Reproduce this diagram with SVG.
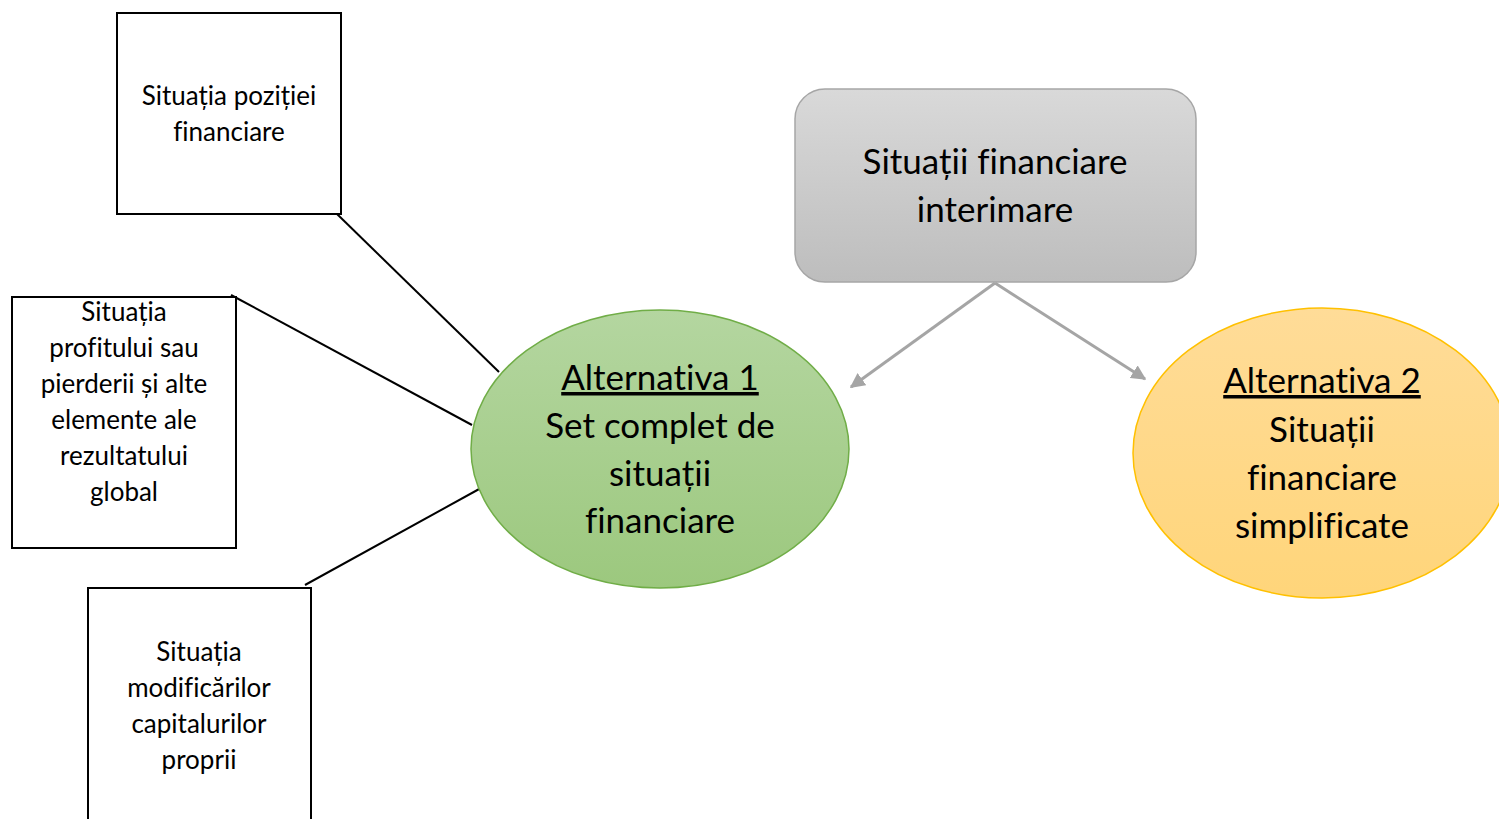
<svg xmlns="http://www.w3.org/2000/svg" width="1499" height="819" viewBox="0 0 1499 819">
<style>
  text { font-family: Lato, "Open Sans", "Liberation Sans", sans-serif; fill: #000; text-anchor: middle; font-variant-ligatures: none; }
  .box { fill: #fff; stroke: #000; stroke-width: 2; }
  .small { font-size: 26px; }
  .mid { font-size: 35px; }
  .big { font-size: 35px; }
  .link { stroke: #000; stroke-width: 2; fill: none; }
  .arrow { stroke: #a5a5a5; stroke-width: 3; fill: none; marker-end: url(#ah); }
</style>
<defs>
  <marker id="ah" viewBox="0 0 10 10" refX="9" refY="5" markerWidth="5" markerHeight="5" orient="auto" markerUnits="strokeWidth">
    <path d="M0,0 L10,5 L0,10 z" fill="#a5a5a5"/>
  </marker>
  <linearGradient id="gGray" x1="0" y1="0" x2="0" y2="1">
    <stop offset="0" stop-color="#d9d9d9"/>
    <stop offset="1" stop-color="#bdbdbd"/>
  </linearGradient>
  <linearGradient id="gGreen" x1="0" y1="0" x2="0" y2="1">
    <stop offset="0" stop-color="#b4d6a0"/>
    <stop offset="1" stop-color="#9cc87e"/>
  </linearGradient>
  <linearGradient id="gOrange" x1="0" y1="0" x2="0" y2="1">
    <stop offset="0" stop-color="#ffdc98"/>
    <stop offset="1" stop-color="#ffd57a"/>
  </linearGradient>
</defs>

<g id="connectors">
  <line class="link" x1="337" y1="214" x2="499" y2="372"/>
  <line class="link" x1="231" y1="295" x2="472" y2="425"/>
  <line class="link" x1="305" y1="585" x2="481" y2="488"/>
  <line class="arrow" x1="995" y1="283" x2="851" y2="387"/>
  <line class="arrow" x1="995" y1="283" x2="1145" y2="379"/>
</g>

<g id="box-pozitie">
  <rect class="box" x="117" y="13" width="224" height="201"/>
  <text class="small" x="229" y="105">Situația poziției</text>
  <text class="small" x="229" y="141">financiare</text>
</g>

<g id="box-profit">
  <rect class="box" x="12" y="297" width="224" height="251"/>
  <text class="small" x="124" y="321">Situația</text>
  <text class="small" x="124" y="357">profitului sau</text>
  <text class="small" x="124" y="393">pierderii și alte</text>
  <text class="small" x="124" y="429">elemente ale</text>
  <text class="small" x="124" y="465">rezultatului</text>
  <text class="small" x="124" y="501">global</text>
</g>

<g id="box-capitaluri">
  <rect class="box" x="88" y="588" width="223" height="240"/>
  <text class="small" x="199" y="661">Situația</text>
  <text class="small" x="199" y="697">modificărilor</text>
  <text class="small" x="199" y="733">capitalurilor</text>
  <text class="small" x="199" y="769">proprii</text>
</g>

<g id="node-interimare">
  <rect x="795" y="89" width="401" height="193" rx="30" ry="30" fill="url(#gGray)" stroke="#a6a6a6" stroke-width="1.5"/>
  <text class="mid" x="995" y="174">Situații financiare</text>
  <text class="mid" x="995" y="222">interimare</text>
</g>

<g id="node-alt1">
  <ellipse cx="660" cy="449" rx="189" ry="139" fill="url(#gGreen)" stroke="#70ad47" stroke-width="1.5"/>
  <text class="big" x="660" y="390" text-decoration="underline">Alternativa 1</text>
  <text class="big" x="660" y="438">Set complet de</text>
  <text class="big" x="660" y="486">situații</text>
  <text class="big" x="660" y="533">financiare</text>
</g>

<g id="node-alt2">
  <ellipse cx="1322" cy="453" rx="189" ry="145" fill="url(#gOrange)" stroke="#ffc000" stroke-width="1.5"/>
  <text class="big" x="1322" y="393" text-decoration="underline">Alternativa 2</text>
  <text class="big" x="1322" y="442">Situații</text>
  <text class="big" x="1322" y="490">financiare</text>
  <text class="big" x="1322" y="538">simplificate</text>
</g>
</svg>
